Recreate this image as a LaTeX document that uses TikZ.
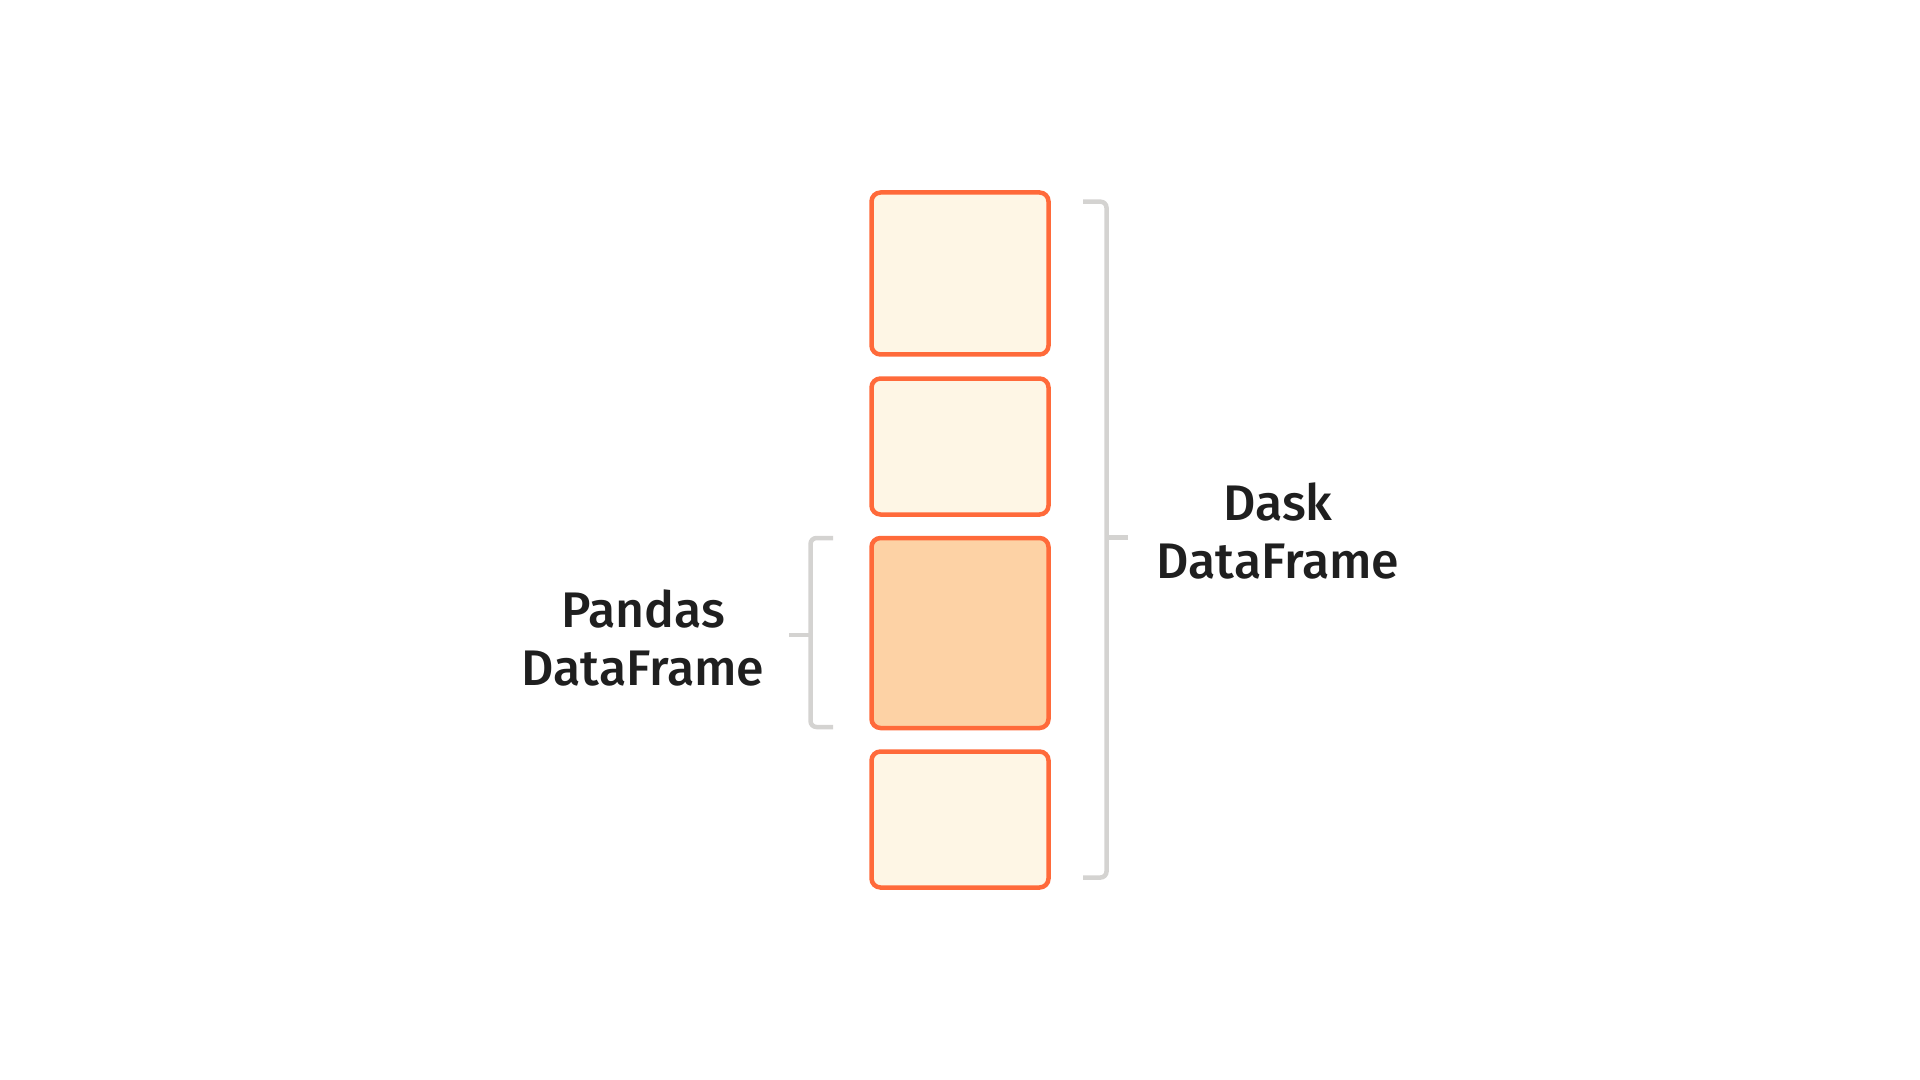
\documentclass[tikz,border=0pt]{standalone}
\usepackage{fontspec}
\setmainfont{Fira Sans}[UprightFont=* Medium]
\definecolor{chunkline}{HTML}{FF6A3A}
\definecolor{chunkfill}{HTML}{FEF6E5}
\definecolor{chunkhot}{HTML}{FDD2A5}
\definecolor{brace}{HTML}{D4D3D1}
\definecolor{ink}{HTML}{1F1F1F}
\tikzset{part/.style={rectangle,draw=chunkline,fill=chunkfill,line width=2.25pt,rounded corners=4.5pt,minimum width=88.5pt,inner sep=0pt}}
\tikzset{hot/.style={fill=chunkhot}}
\tikzset{brk/.style={draw=brace,line width=2.25pt,rounded corners=3pt}}
\tikzset{t/.style={text=ink,align=center,font=\fontsize{25}{29}\selectfont,inner sep=0pt}}

\begin{document}
\begin{tikzpicture}[x=0.5pt,y=-0.5pt]
      \useasboundingbox (0,0) rectangle (1920,1080);
      \node[part,minimum height=81pt] (P1) at (960,273.5) {};
      \node[part,minimum height=68pt] (P2) at (960,446.5) {};
      \node[part,hot,minimum height=95pt] (P3) at (960,633) {};
      \node[part,minimum height=68pt] (P4) at (960,819.5) {};
      % dask bracket
      \draw[brk] (1083,201.7) -- (1106.5,201.7) -- (1106.5,877.5) -- (1083,877.5);
      \draw[brk] (1106.5,537.7) -- (1128,537.7);
      % pandas bracket
      \draw[brk] (833,538) -- (810.5,538) -- (810.5,727) -- (833,727);
      \draw[brk] (810.5,635) -- (789,635);
      \node[t] (D) at (1278,531) {Dask\\DataFrame};
      \node[t] (S) at (643,638) {Pandas\\DataFrame};
\end{tikzpicture}
\end{document}
